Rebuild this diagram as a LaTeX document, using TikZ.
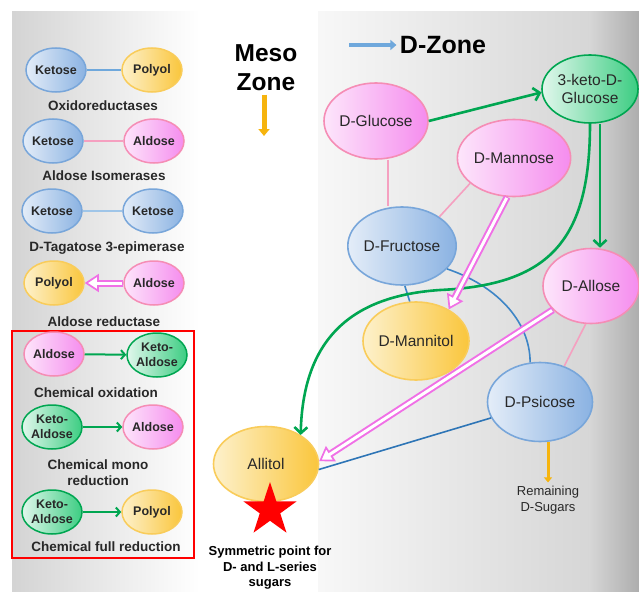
\documentclass[tikz,border=0pt]{standalone}
\usepackage{fontspec}
\setmainfont{Liberation Sans}
\usetikzlibrary{shapes.geometric,arrows.meta,calc}

\definecolor{pinkL}{RGB}{253,230,251}
\definecolor{pinkR}{RGB}{245,140,238}
\definecolor{pinkB}{RGB}{245,141,181}
\definecolor{blueL}{RGB}{228,237,248}
\definecolor{blueR}{RGB}{138,178,226}
\definecolor{blueB}{RGB}{120,166,218}
\definecolor{oraL}{RGB}{253,241,204}
\definecolor{oraR}{RGB}{250,198,60}
\definecolor{oraB}{RGB}{249,204,90}
\definecolor{grnL}{RGB}{225,247,236}
\definecolor{grnR}{RGB}{60,205,130}
\definecolor{grnB}{RGB}{0,166,81}
\definecolor{grnA}{RGB}{0,166,81}
\definecolor{holc}{RGB}{240,112,230}
\definecolor{pinkLine}{RGB}{245,160,192}
\definecolor{blueLine}{RGB}{61,133,198}
\definecolor{dblueLine}{RGB}{46,117,182}
\definecolor{lblueLine}{RGB}{111,168,220}
\definecolor{llblueLine}{RGB}{159,197,232}
\definecolor{oraA}{RGB}{246,180,14}
\definecolor{dzA}{RGB}{111,168,220}
\definecolor{txt}{RGB}{40,40,40}

\tikzset{
  sugar/.style={ellipse, line width=1.6pt, inner sep=0pt, text=txt, align=center,
    font=\fontsize{15.5}{18}\selectfont},
  leg/.style={ellipse, line width=1.5pt, inner sep=0pt, minimum width=60pt,
    minimum height=44pt, text=txt, align=center,
    font=\bfseries\fontsize{12.5}{14.5}\selectfont},
  pinkfill/.style={draw=pinkB, left color=pinkL, right color=pinkR},
  bluefill/.style={draw=blueB, left color=blueL, right color=blueR},
  orafill/.style={draw=oraB, left color=oraL, right color=oraR},
  grnfill/.style={draw=grnB, left color=grnL, right color=grnR},
  leglabel/.style={text=txt, align=center, font=\bfseries\fontsize{13.5}{16}\selectfont},
  garrow/.style={grnA, line width=2.6pt, -{Straight Barb[length=6pt,width=13pt]}},
  lgarrow/.style={grnA, line width=2pt, -{Straight Barb[length=4pt,width=9pt]}},
  pline/.style={pinkLine, line width=1.6pt},
  bline/.style={blueLine, line width=1.6pt},
}

\newcommand{\hollowarrow}[2]{%
  \draw[holc, line width=1.7pt, -{Triangle[length=14pt,width=18pt,fill=white]}] (#1) -- (#2);
  \draw[holc, line width=7pt, shorten >=13pt] (#1) -- (#2);
  \draw[white, line width=3pt, shorten >=11pt, shorten <=1pt] (#1) -- (#2);
}

\begin{document}
\begin{tikzpicture}[x=1pt,y=-1pt]
\useasboundingbox (0,0) rectangle (639,591);
\fill[white] (0,0) rectangle (639,591);
% backgrounds
\shade[left color=black!17, right color=white] (12,12) rectangle (200,591);
\shade[left color=black!3, right color=black!16] (318,12) rectangle (590,591);
\shade[left color=black!16, right color=black!32] (589.5,12) rectangle (639,591);

% ---------- legend ----------
\node[leg, bluefill] (k1) at (56,70) {Ketose};
\node[leg, orafill] (p1) at (152,70) {Polyol};
\node[leglabel] (lab1) at (103,106) {Oxidoreductases};

\node[leg, bluefill] (k2) at (53,141) {Ketose};
\node[leg, pinkfill] (a2) at (154,141) {Aldose};
\node[leglabel] (lab2) at (104,176) {Aldose Isomerases};

\node[leg, bluefill] (k3) at (52,211) {Ketose};
\node[leg, bluefill] (k3b) at (153,211) {Ketose};
\node[leglabel] (lab3) at (107,248) {D-Tagatose 3-epimerase};

\node[leg, orafill] (p4) at (54,283) {Polyol};
\node[leg, pinkfill] (a4) at (154,283) {Aldose};
\node[leglabel] (lab4) at (104,322) {Aldose reductase};

\draw[red, line width=1.5pt] (12,331) rectangle (194,558);

\node[leg, pinkfill] (a5) at (54,354) {Aldose};
\node[leg, grnfill] (g5) at (157,355) {Keto-\\Aldose};
\node[leglabel] (lab5) at (96,393) {Chemical oxidation};

\node[leg, grnfill] (g6) at (52,427) {Keto-\\Aldose};
\node[leg, pinkfill] (a6) at (153,427) {Aldose};
\node[leglabel] (lab6) at (98,473) {Chemical mono\\reduction};

\node[leg, grnfill] (g7) at (52,512) {Keto-\\Aldose};
\node[leg, orafill] (p7) at (152,512) {Polyol};
\node[leglabel] (lab7) at (106,547) {Chemical full reduction};

\draw[lblueLine, line width=1.5pt] (k1) -- (p1);
\draw[pinkLine, line width=1.5pt] (k2) -- (a2);
\draw[llblueLine, line width=1.5pt] (k3) -- (k3b);
\hollowarrow{a4}{p4}
\draw[lgarrow] (a5) -- (g5);
\draw[lgarrow] (g6) -- (a6);
\draw[lgarrow] (g7) -- (p7);

% ---------- headings ----------
\node[font=\bfseries\fontsize{24.5}{29}\selectfont, align=center] (meso) at (266,68) {Meso\\Zone};
\coordinate (mesoend) at (264,136);
\draw[oraA, line width=5pt, -{Triangle[length=7pt,width=11pt]}] (meso.south -| mesoend) -- (mesoend);

\node[font=\bfseries\fontsize{25}{30}\selectfont] (dzone) at (443,45) {D-Zone};
\coordinate (dzs) at (349,45);
\draw[dzA, line width=4pt, -{Triangle[length=6pt,width=10pt]}] (dzs) -- (dzone.west);

% ---------- sugars ----------
\node[sugar, pinkfill, minimum width=104pt, minimum height=76pt] (glu) at (376,121) {D-Glucose};
\node[sugar, grnfill, minimum width=96pt, minimum height=68pt] (keto) at (590,89) {3-keto-D-\\Glucose};
\node[sugar, pinkfill, minimum width=103pt, minimum height=77pt] (man) at (514,158) {D-Mannose};
\node[sugar, bluefill, minimum width=105pt, minimum height=78pt] (fru) at (402,246) {D-Fructose};
\node[sugar, pinkfill, minimum width=96pt, minimum height=75pt] (all) at (591,286) {D-Allose};
\node[sugar, orafill, minimum width=105pt, minimum height=78pt] (mnt) at (416,341) {D-Mannitol};
\node[sugar, bluefill, minimum width=105pt, minimum height=79pt] (psi) at (540,402) {D-Psicose};
\node[sugar, orafill, minimum width=105pt, minimum height=75pt] (ait) at (266,464) {Allitol};

\node[text=txt, align=center, font=\fontsize{13}{16}\selectfont] (rem) at (548,500) {Remaining\\D-Sugars};
\node[text=black, align=center, font=\bfseries\fontsize{13}{15.5}\selectfont] (sym) at (270,568) {Symmetric point for\\D- and L-series\\sugars};

% ---------- connectors ----------
\draw[pline] ([xshift=12pt]glu.south) -- ([xshift=-14pt]fru.north);
\draw[pline] (man.210) -- (fru.38);
\draw[pline] (all.262) -- (psi.56);
\draw[bline] (fru.274) -- (mnt.99);
\draw[bline] (fru.333) .. controls (495,285) and (530,320) .. (psi.104);
\draw[dblueLine, line width=1.6pt] (psi.198) -- (ait.-6);

\draw[garrow] (glu.east) -- (keto.184);
\draw[garrow] ([xshift=10pt]keto.south) -- ([xshift=9pt]all.north);
\draw[garrow] (keto.south) .. controls (590,240) and (550,285) .. (440,290)
   .. controls (350,296) and (303,340) .. (ait.40);

\hollowarrow{man.260}{mnt.44}
\hollowarrow{all.212}{ait.3}

\draw[oraA, line width=3pt, -{Triangle[length=5pt,width=8pt]}] ([xshift=8pt]psi.south) -- (rem.north);

\node[star, star points=5, star point ratio=2.6, fill=red, minimum size=56pt, inner sep=0pt] (star) at (270,510) {};
\end{tikzpicture}
\end{document}
